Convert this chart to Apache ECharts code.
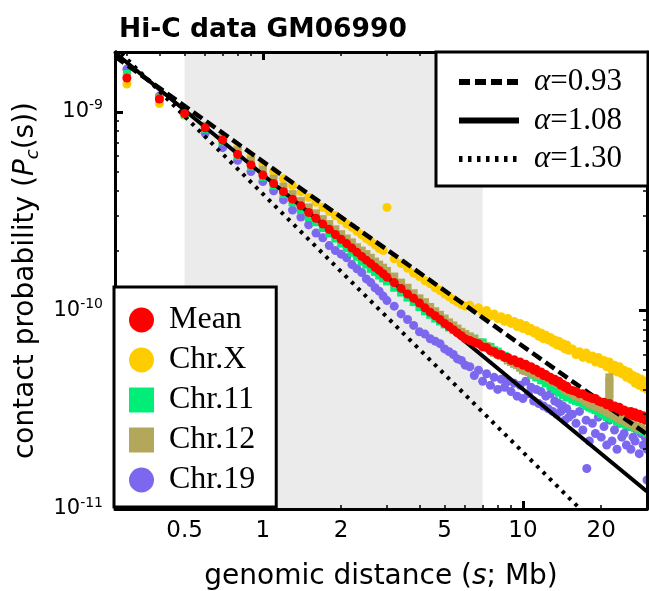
<!DOCTYPE html>
<html>
<head>
<meta charset="utf-8">
<script src="https://cdn.jsdelivr.net/npm/echarts@6/dist/echarts.min.js"></script>
<style>
  html, body { margin: 0; padding: 0; background: #fff; }
  #chart { width: 649px; height: 591px; }
</style>
</head>
<body>
<div id="chart"></div>
<script>
// genomic distance (Mb)
var dist = [
  0.3, 0.4, 0.5, 0.6, 0.7, 0.8, 0.9, 1.0, 1.1, 1.2, 1.3, 1.4, 1.5, 1.6, 1.7, 1.8, 1.9, 2.0, 2.1, 2.2, 2.3, 2.4, 2.5, 2.6, 2.7, 2.8, 2.9, 3.0,
  3.2, 3.4, 3.6, 3.8, 4.0, 4.2, 4.4, 4.6, 4.8, 5.0, 5.2, 5.4, 5.6, 5.8, 6.0,
  6.25, 6.5, 6.75, 7, 7.25, 7.5, 7.75, 8, 8.25, 8.5, 8.75, 9, 9.25, 9.5, 9.75, 10, 10.25, 10.5, 10.75, 11,
  11.25, 11.5, 11.75, 12, 12.25, 12.5, 12.75, 13, 13.25, 13.5, 13.75, 14, 14.25, 14.5, 14.75, 15,
  15.5, 16, 16.5, 17, 17.5, 18, 18.5, 19, 19.5, 20, 20.5, 21, 21.5, 22, 22.5, 23, 23.5, 24, 24.5, 25,
  25.5, 26, 26.5, 27, 27.5, 28, 28.5, 29, 29.5, 30
]

// contact probability, in units of 1e-10
var meanP = [
  14.8, 11.6, 9.8, 8.3, 7.2, 6.1, 5.4, 4.8, 4.35, 3.96, 3.63, 3.36, 3.11, 2.91, 2.72, 2.56, 2.41, 2.28, 2.17, 2.06, 1.96, 1.87, 1.79, 1.72, 1.65, 1.59, 1.53, 1.47,
  1.38, 1.29, 1.21, 1.15, 1.09, 1.03, 0.98, 0.94, 0.90, 0.86, 0.83, 0.80, 0.77, 0.745, 0.72,
  0.705, 0.69, 0.68, 0.655, 0.65, 0.625, 0.62, 0.60, 0.60, 0.58, 0.58, 0.56, 0.565, 0.545, 0.55, 0.53, 0.535, 0.515, 0.52, 0.50,
  0.505, 0.485, 0.49, 0.47, 0.475, 0.46, 0.46, 0.445, 0.45, 0.435, 0.44, 0.42, 0.425, 0.41, 0.415, 0.40,
  0.395, 0.39, 0.38, 0.38, 0.37, 0.365, 0.36, 0.36, 0.35, 0.345, 0.345, 0.335, 0.34, 0.325, 0.33, 0.32, 0.325, 0.31, 0.315, 0.31,
  0.30, 0.31, 0.295, 0.305, 0.29, 0.30, 0.285, 0.295, 0.28, 0.29
]
var chrXP = [
  13.8, 11.0, 9.6, 8.4, 7.4, 6.6, 6.0, 5.45, 5.0, 4.6, 4.25, 3.95, 3.7, 3.5, 3.3, 3.15, 3.0, 2.85, 2.72, 2.62, 2.5, 2.4, 2.3, 2.22, 2.14, 2.05, 2.0, 3.3,
  1.82, 1.72, 1.63, 1.54, 1.48, 1.41, 1.36, 1.30, 1.26, 1.21, 1.17, 1.13, 1.10, 1.07, 1.05,
  1.06, 1.01, 1.03, 0.97, 1.0, 0.94, 0.96, 0.91, 0.93, 0.88, 0.91, 0.86, 0.88, 0.83, 0.86, 0.81, 0.84, 0.79, 0.81, 0.77,
  0.79, 0.74, 0.77, 0.72, 0.75, 0.71, 0.73, 0.69, 0.71, 0.67, 0.70, 0.66, 0.68, 0.64, 0.67, 0.63,
  0.64, 0.60, 0.62, 0.58, 0.61, 0.57, 0.59, 0.55, 0.58, 0.54, 0.56, 0.52, 0.55, 0.50, 0.53, 0.49, 0.52, 0.48, 0.50, 0.46,
  0.49, 0.45, 0.47, 0.43, 0.46, 0.42, 0.45, 0.41, 0.44, 0.40
]
var chr11P = [
  15.5, 11.8, 9.7, 8.2, 7.1, 6.0, 5.3, 4.7, 4.25, 3.85, 3.5, 3.2, 2.95, 2.78, 2.6, 2.44, 2.3, 2.17, 2.06, 1.95, 1.86, 1.76, 1.70, 1.62, 1.56, 1.50, 1.45, 1.40,
  1.30, 1.23, 1.16, 1.10, 1.04, 0.99, 0.95, 0.91, 0.88, 0.85, 0.82, 0.80, 0.78, 0.76, 0.74,
  0.73, 0.72, 0.69, 0.69, 0.66, 0.655, 0.63, 0.62, 0.595, 0.59, 0.565, 0.56, 0.54, 0.535, 0.515, 0.51, 0.495, 0.495, 0.475, 0.475,
  0.46, 0.46, 0.445, 0.445, 0.43, 0.43, 0.415, 0.415, 0.40, 0.40, 0.385, 0.39, 0.375, 0.375, 0.365, 0.365,
  0.355, 0.35, 0.345, 0.34, 0.33, 0.325, 0.32, 0.315, 0.31, 0.30, 0.30, 0.29, 0.295, 0.285, 0.285, 0.275, 0.28, 0.27, 0.27, 0.265,
  0.265, 0.26, 0.26, 0.255, 0.255, 0.25, 0.25, 0.245, 0.25, 0.24
]
var chr12P = [
  15.0, 11.7, 10.0, 8.5, 7.4, 6.4, 5.7, 5.1, 4.6, 4.2, 3.85, 3.55, 3.3, 3.08, 2.88, 2.72, 2.56, 2.42, 2.3, 2.2, 2.08, 2.0, 1.92, 1.84, 1.76, 1.70, 1.64, 1.58,
  1.48, 1.38, 1.30, 1.22, 1.15, 1.10, 1.04, 0.99, 0.95, 0.91, 0.87, 0.84, 0.81, 0.78, 0.76,
  0.74, 0.72, 0.69, 0.67, 0.66, 0.64, 0.61, 0.60, 0.59, 0.58, 0.56, 0.55, 0.54, 0.53, 0.52, 0.50, 0.495, 0.49, 0.485, 0.48,
  0.475, 0.47, 0.47, 0.47, 0.465, 0.46, 0.45, 0.44, 0.44, 0.43, 0.425, 0.42, 0.41, 0.40, 0.395, 0.39,
  0.38, 0.37, 0.365, 0.36, 0.35, 0.34, 0.335, 0.33, 0.325, 0.32, 0.315, 0.31, 0.305, 0.30, 0.295, 0.29, 0.285, 0.28, 0.28, 0.275,
  0.27, 0.27, 0.265, 0.26, 0.26, 0.255, 0.255, 0.25, 0.25, 0.245
]
// column of Chr.12 points at ~21.5 Mb
var chr12SpikeDist = 21.5
var chr12SpikeP = [0.46, 0.44, 0.42, 0.40, 0.38, 0.36]
var chr19P = [
  16.4, 12.0, 9.9, 7.8, 6.6, 5.7, 5.0, 4.45, 4.0, 3.6, 3.2, 2.95, 2.7, 2.45, 2.32, 2.12, 2.0, 1.92, 1.84, 1.7, 1.62, 1.55, 1.44, 1.38, 1.3, 1.25, 1.18, 1.12,
  1.05, 0.96, 0.90, 0.84, 0.78, 0.76, 0.72, 0.70, 0.68, 0.64, 0.62, 0.60, 0.57, 0.56, 0.53,
  0.52, 0.47, 0.50, 0.44, 0.48, 0.42, 0.46, 0.40, 0.45, 0.41, 0.44, 0.39, 0.43, 0.37, 0.42, 0.36, 0.44, 0.38, 0.41, 0.35,
  0.40, 0.34, 0.39, 0.33, 0.37, 0.32, 0.38, 0.31, 0.35, 0.30, 0.34, 0.31, 0.33, 0.28, 0.32, 0.29,
  0.30, 0.27, 0.31, 0.25, 0.28, 0.22, 0.27, 0.24, 0.29, 0.23, 0.26, 0.21, 0.28, 0.22, 0.25, 0.20, 0.27, 0.23, 0.24, 0.21,
  0.26, 0.20, 0.23, 0.22, 0.25, 0.19, 0.24, 0.21, 0.23, 0.20
]
var chr19Outliers = [[17.6, 0.16], [30, 0.14]]

// power-law guides: exponent and value at s = 0.5 Mb
var alphas = [0.93, 1.08, 1.30]
var alphaLabels = ['0.93', '1.08', '1.30']
var alphaAmp = [1.07e-9, 1.02e-9, 0.95e-9]

var xMin = 0.27, xMax = 30
var yMin = 1e-11, yMax = 2e-9
var xLabelVals = [0.5, 1, 2, 5, 10, 20]
var xMajorTicks = [1, 10]
var xMinorTicks = [0.3, 0.4, 0.5, 0.6, 0.7, 0.8, 0.9, 2, 3, 4, 5, 6, 7, 8, 9, 20, 30]
var yMajorTicks = [1e-11, 1e-10, 1e-9]
var yMinorTicks = [2e-11, 3e-11, 4e-11, 5e-11, 6e-11, 7e-11, 8e-11, 9e-11,
  2e-10, 3e-10, 4e-10, 5e-10, 6e-10, 7e-10, 8e-10, 9e-10, 2e-9]

var SANS = 'DejaVu Sans'
var SERIF = 'Liberation Serif'

var toPairs = function (vals) {
    return dist.map(function (d, i) { return [d, vals[i] * 1e-10] })
}

var scatter = function (name, vals, color, symbol, size, z) {
    return {
        type: 'scatter', name: name, data: vals,
        symbol: symbol, symbolSize: size, z: z,
        itemStyle: { color: color, opacity: 1 },
        xAxisIndex: 0, yAxisIndex: 0
    }
}

var chr12Data = toPairs(chr12P).concat(chr12SpikeP.map(function (v) { return [chr12SpikeDist, v * 1e-10] }))
var chr19Data = toPairs(chr19P).concat(chr19Outliers.map(function (p) { return [p[0], p[1] * 1e-10] }))

var lineStyles = [
    { color: '#000', width: 4.5, type: [11, 5] },
    { color: '#000', width: 4, type: 'solid' },
    { color: '#000', width: 4, type: [3.5, 5.5] }
]
var lineSeries = alphas.map(function (a, i) {
    var A = alphaAmp[i]
    return {
        type: 'line', name: 'α=' + alphaLabels[i],
        data: [[xMin, A * Math.pow(xMin / 0.5, -a)], [xMax, A * Math.pow(xMax / 0.5, -a)]],
        symbol: 'none', lineStyle: lineStyles[i], itemStyle: { color: '#000' },
        z: 3, silent: true,
        xAxisIndex: 0, yAxisIndex: 0
    }
})

var xAxisDef = function (pos, ticks, len, w, labels, frame) {
    var ax = {
        type: 'log', logBase: 10, min: xMin, max: xMax, position: pos, z: 5,
        axisLine: { show: frame, onZero: false, lineStyle: { color: '#000', width: 3 } },
        axisTick: { show: true, inside: true, customValues: ticks, length: len, lineStyle: { color: '#000', width: w } },
        axisLabel: { show: false },
        splitLine: { show: false }, minorTick: { show: false }
    }
    if (labels) {
        ax.axisLabel = {
            show: true, customValues: labels, margin: 11,
            color: '#000', fontFamily: SANS, fontSize: 23,
            formatter: function (v) { return String(+v.toPrecision(3)) }
        }
        ax.name = 'genomic distance ({i|s}; Mb)'
        ax.nameLocation = 'middle'
        ax.nameGap = 54
        ax.nameTextStyle = {
            color: '#000', fontFamily: SANS, fontSize: 28,
            rich: { i: { fontStyle: 'italic', fontFamily: SANS, fontSize: 28, color: '#000' } }
        }
    }
    return ax
}

var yAxisDef = function (pos, ticks, len, w, labels, frame) {
    var ax = {
        type: 'log', logBase: 10, min: yMin, max: yMax, position: pos, z: 5,
        axisLine: { show: frame, onZero: false, lineStyle: { color: '#000', width: 3 } },
        axisTick: { show: true, inside: true, customValues: ticks, length: len, lineStyle: { color: '#000', width: w } },
        axisLabel: { show: false },
        splitLine: { show: false }, minorTick: { show: false }
    }
    if (labels) {
        ax.axisLabel = {
            show: true, customValues: labels, margin: 12,
            color: '#000', fontFamily: SANS, fontSize: 21,
            formatter: function (v) {
                return '{b|10}{e|' + Math.round(Math.log10(v)) + '}'
            },
            rich: {
                b: { fontSize: 21, fontFamily: SANS, color: '#000', lineHeight: 26 },
                e: { fontSize: 14, fontFamily: SANS, color: '#000', verticalAlign: 'top', lineHeight: 16 }
            }
        }
        ax.name = 'contact probability ({i|P}{c|c}(s))'
        ax.nameLocation = 'middle'
        ax.nameRotate = 90
        ax.nameGap = 60
        ax.nameTextStyle = {
            color: '#000', fontFamily: SANS, fontSize: 28,
            rich: {
                i: { fontStyle: 'italic', fontFamily: SANS, fontSize: 28, color: '#000' },
                c: { fontStyle: 'italic', fontFamily: SANS, fontSize: 18, color: '#000', verticalAlign: 'bottom', lineHeight: 34 }
            }
        }
    }
    return ax
}

var option = {
    animation: false,
    backgroundColor: '#fff',
    title: {
        text: 'Hi-C data GM06990', left: 114, top: 12,
        textStyle: { fontFamily: SANS, fontWeight: 'bold', fontSize: 26.5, color: '#000' }
    },
    grid: { left: 115, right: 2, top: 52, bottom: 82, outerBoundsMode: 'none', containLabel: false },
    xAxis: [
        xAxisDef('bottom', xMinorTicks, 4, 1.5, xLabelVals, true),
        xAxisDef('bottom', xMajorTicks, 8, 3, null, false),
        xAxisDef('top', xMinorTicks, 4, 1.5, null, true),
        xAxisDef('top', xMajorTicks, 8, 3, null, false)
    ],
    yAxis: [
        yAxisDef('left', yMinorTicks, 4, 1.5, yMajorTicks, true),
        yAxisDef('left', yMajorTicks, 8, 3, null, false),
        yAxisDef('right', yMinorTicks, 4, 1.5, null, true),
        yAxisDef('right', yMajorTicks, 8, 3, null, false)
    ],
    legend: [
        {
            data: lineSeries.map(function (s) { return s.name }),
            orient: 'vertical', right: 1, top: 52, z: 10,
            backgroundColor: '#fff', borderColor: '#000', borderWidth: 3, borderRadius: 0,
            padding: [14, 26, 11, 20], itemGap: 6.5, itemWidth: 60, itemHeight: 16,
            selectedMode: false,
            itemStyle: { opacity: 0 },
            lineStyle: { width: 6 },
            formatter: function (name) { return '{a|α}' + name.slice(1) },
            textStyle: {
                fontFamily: SERIF, fontSize: 31, color: '#000', lineHeight: 32, padding: [0, 0, 0, 10],
                rich: { a: { fontFamily: SERIF, fontStyle: 'italic', fontSize: 31, color: '#000' } }
            }
        },
        {
            data: ['Mean', 'Chr.X', 'Chr.11', 'Chr.12', 'Chr.19'],
            orient: 'vertical', left: 114, top: 287, z: 10,
            backgroundColor: '#fff', borderColor: '#000', borderWidth: 3, borderRadius: 0,
            padding: [16, 21, 10, 15], itemGap: 6, itemWidth: 25, itemHeight: 25,
            selectedMode: false,
            textStyle: { fontFamily: SERIF, fontSize: 32, color: '#000', lineHeight: 34, padding: [0, 0, 0, 10] }
        }
    ],
    series: [
        {
            type: 'line', name: 'band', data: [], z: 1, silent: true,
            xAxisIndex: 0, yAxisIndex: 0,
            markArea: {
                silent: true, itemStyle: { color: '#ebebeb' },
                data: [[{ xAxis: 0.5 }, { xAxis: 7 }]]
            }
        },
        scatter('Chr.19', chr19Data, '#7b68ee', 'circle', 9, 2),
        scatter('Chr.X', toPairs(chrXP), '#ffcc00', 'circle', 9, 2),
        scatter('Chr.11', toPairs(chr11P), '#00ee77', 'rect', 8, 2),
        scatter('Chr.12', chr12Data, '#b3a75b', 'rect', 8, 2),
        lineSeries[0], lineSeries[1], lineSeries[2],
        scatter('Mean', toPairs(meanP), '#ff0000', 'circle', 9, 4)
    ]
}

echarts.init(document.getElementById('chart'), null, { renderer: 'canvas' }).setOption(option)
</script>
</body>
</html>
